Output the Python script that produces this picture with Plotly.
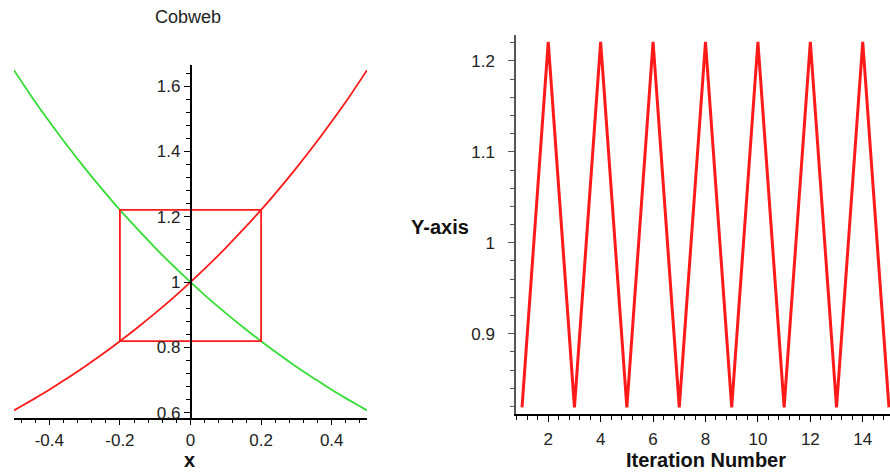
import plotly.graph_objects as go

# ---------------- data ----------------
# sampled curves read from the cobweb panel
curve_x = [-0.5, -0.45, -0.4, -0.35, -0.3, -0.25, -0.2, -0.15, -0.1, -0.05, 0.0,
           0.05, 0.1, 0.15, 0.2, 0.25, 0.3, 0.35, 0.4, 0.45, 0.5]
red_curve_y = [0.607, 0.638, 0.670, 0.705, 0.741, 0.779, 0.819, 0.861, 0.905, 0.951, 1.000,
               1.051, 1.105, 1.162, 1.221, 1.284, 1.350, 1.419, 1.492, 1.568, 1.649]
green_curve_y = [1.649, 1.568, 1.492, 1.419, 1.350, 1.284, 1.221, 1.162, 1.105, 1.051, 1.000,
                 0.951, 0.905, 0.861, 0.819, 0.779, 0.741, 0.705, 0.670, 0.638, 0.607]

# cobweb path
cobweb_x = [-0.2, -0.2, 0.2, 0.2, -0.2]
cobweb_y = [0.819, 1.221, 1.221, 0.819, 0.819]

# iteration panel
iter_n = [1, 2, 3, 4, 5, 6, 7, 8, 9, 10, 11, 12, 13, 14, 15]
iter_y = [0.819, 1.221, 0.819, 1.221, 0.819, 1.221, 0.819, 1.221,
          0.819, 1.221, 0.819, 1.221, 0.819, 1.221, 0.819]

# tick labels
left_xticks = [-0.4, -0.2, 0, 0.2, 0.4]
left_xticklabels = ["-0.4", "-0.2", "0", "0.2", "0.4"]
left_yticks = [0.6, 0.8, 1.0, 1.2, 1.4, 1.6]
left_yticklabels = ["0.6", "0.8", "1", "1.2", "1.4", "1.6"]
right_xticks = [2, 4, 6, 8, 10, 12, 14]
right_yticks = [0.9, 1.0, 1.1, 1.2]
right_yticklabels = ["0.9", "1", "1.1", "1.2"]

# ---------------- figure ----------------
RED = "#ff1a1a"
GREEN = "#33dd33"
FONT = "Liberation Sans, Arial, sans-serif"
TICKC = "#222222"

W, H = 890, 476


def px(x):
    return x / W


def py(y):
    return 1 - y / H


fig = go.Figure()
fig.add_trace(go.Scatter(x=curve_x, y=green_curve_y, mode="lines", line=dict(color=GREEN, width=1.8, shape="spline"),
                         xaxis="x", yaxis="y", showlegend=False))
fig.add_trace(go.Scatter(x=curve_x, y=red_curve_y, mode="lines", line=dict(color=RED, width=1.8, shape="spline"),
                         xaxis="x", yaxis="y", showlegend=False))
fig.add_trace(go.Scatter(x=cobweb_x, y=cobweb_y, mode="lines", line=dict(color=RED, width=1.8),
                         xaxis="x", yaxis="y", showlegend=False))
fig.add_trace(go.Scatter(x=iter_n, y=iter_y, mode="lines", line=dict(color=RED, width=3),
                         xaxis="x2", yaxis="y2", showlegend=False))

left_dom = [px(14), px(367)]
axis_common = dict(showgrid=False, zeroline=False, showline=True, linecolor="black", linewidth=1.5,
                   ticks="outside", tickcolor="black", ticklen=6, tickwidth=1.2,
                   tickfont=dict(family=FONT, size=17, color=TICKC))

fig.update_layout(
    width=W, height=H,
    margin=dict(l=0, r=0, t=0, b=0),
    paper_bgcolor="white", plot_bgcolor="white",
    xaxis=dict(domain=left_dom, range=[-0.5, 0.5], anchor="y",
               tickvals=left_xticks, ticktext=left_xticklabels,
               minor=dict(dtick=0.04, tick0=0, ticks="outside", ticklen=4, tickcolor="black"),
               **axis_common),
    yaxis=dict(domain=[py(422), py(66)], range=[0.585, 1.664], anchor="free",
               position=(left_dom[0] + left_dom[1]) / 2,
               tickvals=left_yticks, ticktext=left_yticklabels,
               minor=dict(dtick=0.04, tick0=0, ticks="outside", ticklen=4, tickcolor="black"),
               **axis_common),
    xaxis2=dict(domain=[px(516), 1.0], range=[0.77, 15.04], anchor="y2",
                tickvals=right_xticks, ticklabelstandoff=3,
                minor=dict(dtick=0.4, tick0=0, ticks="outside", ticklen=4, tickcolor="black"),
                **axis_common),
    yaxis2=dict(domain=[py(418.3), py(35)], range=[0.8118, 1.229], anchor="x2",
                tickvals=right_yticks, ticktext=right_yticklabels, ticklabelstandoff=10,
                minor=dict(dtick=0.02, tick0=0, ticks="outside", ticklen=4, tickcolor="#555555"),
                **{**axis_common, "linecolor": "#555555", "tickcolor": "#555555"}),
    annotations=[
        dict(text="Cobweb", x=px(188), y=py(17), xref="paper", yref="paper",
             showarrow=False, xanchor="center", yanchor="middle",
             font=dict(family=FONT, size=18, color="#222222")),
        dict(text="<b>x</b>", x=px(189), y=py(465), xref="paper", yref="paper",
             showarrow=False, xanchor="center", yanchor="middle",
             font=dict(family=FONT, size=20, color="#111111")),
        dict(text="<b>Y-axis</b>", x=px(440), y=py(229), xref="paper", yref="paper",
             showarrow=False, xanchor="center", yanchor="middle",
             font=dict(family=FONT, size=20, color="#111111")),
        dict(text="<b>Iteration Number</b>", x=px(706), y=py(465), xref="paper", yref="paper",
             showarrow=False, xanchor="center", yanchor="middle",
             font=dict(family=FONT, size=20, color="#111111")),
    ],
)

fig.write_html("out.html",
               config={"displayModeBar": False},
               post_script="document.body.style.margin='0';document.body.style.overflow='hidden';")
